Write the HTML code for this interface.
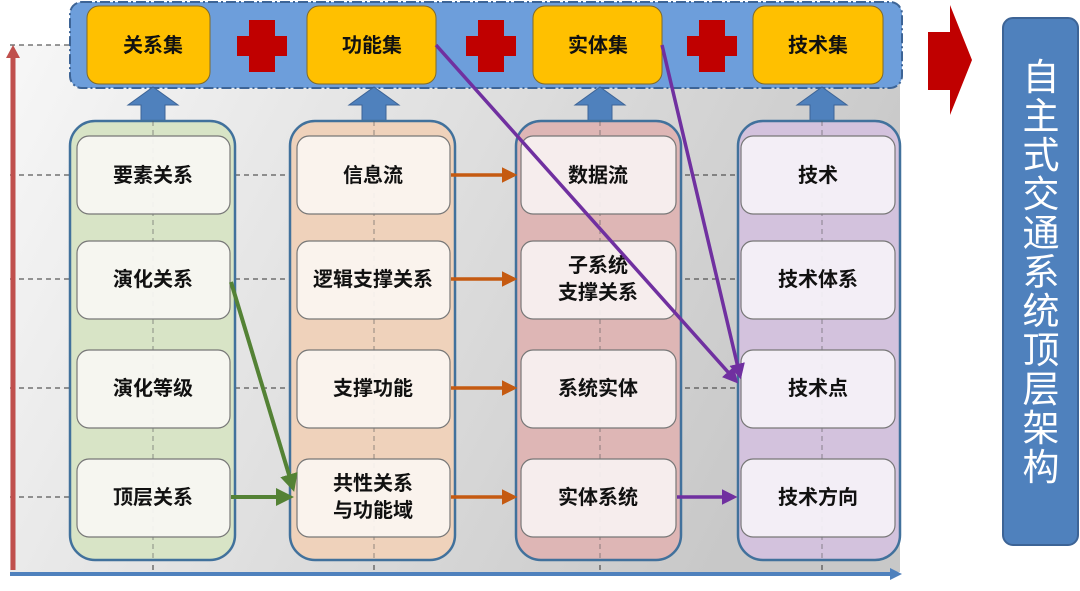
<!DOCTYPE html>
<html><head><meta charset="utf-8"><style>
html,body{margin:0;padding:0;background:#fff;width:1080px;height:591px;overflow:hidden}
text{font-family:"Liberation Sans","Noto Sans CJK SC",sans-serif;font-weight:bold}
</style></head><body>
<svg width="1080" height="591" viewBox="0 0 1080 591" xmlns="http://www.w3.org/2000/svg">
<defs>
<linearGradient id="bg" x1="0" y1="0" x2="1" y2="0.3">
<stop offset="0" stop-color="#f7f7f7"/><stop offset="1" stop-color="#c8c8c8"/></linearGradient>
<marker id="mo" markerWidth="4.5" markerHeight="4.5" refX="3.5" refY="2.25" orient="auto" markerUnits="strokeWidth"><path d="M0,0L4.5,2.25L0,4.5z" fill="#c55a11"/></marker>
<marker id="mp" markerWidth="4.5" markerHeight="4.5" refX="3.5" refY="2.25" orient="auto" markerUnits="strokeWidth"><path d="M0,0L4.5,2.25L0,4.5z" fill="#7030a0"/></marker>
<marker id="mg" markerWidth="4.5" markerHeight="4.5" refX="3.5" refY="2.25" orient="auto" markerUnits="strokeWidth"><path d="M0,0L4.5,2.25L0,4.5z" fill="#548235"/></marker>
</defs>
<rect x="10" y="45" width="890" height="527" fill="url(#bg)"/>
<g stroke="#333" stroke-dasharray="5,4" stroke-width="1">
<line x1="10" y1="45" x2="900" y2="45"/>
<line x1="10" y1="175" x2="900" y2="175"/>
<line x1="10" y1="279" x2="900" y2="279"/>
<line x1="10" y1="388" x2="900" y2="388"/>
<line x1="10" y1="497" x2="900" y2="497"/>
<line x1="153" y1="88" x2="153" y2="572"/>
<line x1="374" y1="88" x2="374" y2="572"/>
<line x1="600" y1="88" x2="600" y2="572"/>
<line x1="822" y1="88" x2="822" y2="572"/>
</g>
<line x1="13" y1="570" x2="13" y2="56" stroke="#c0504d" stroke-width="5"/>
<path d="M6,58L13,45L20,58z" fill="#c0504d"/>
<line x1="10" y1="574" x2="892" y2="574" stroke="#4f81bd" stroke-width="4"/>
<path d="M890,568L902,574L890,580z" fill="#4f81bd"/>
<rect x="70" y="2" width="832" height="86" rx="12" fill="#6d9edb" stroke="#3d6496" stroke-width="2" stroke-dasharray="10,3,2,3"/>
<g fill="#ffc000" stroke="#7f6a2a" stroke-width="1">
<rect x="87" y="6" width="123" height="78" rx="12"/>
<rect x="307" y="6" width="129" height="78" rx="12"/>
<rect x="533" y="6" width="129" height="78" rx="12"/>
<rect x="753" y="6" width="130" height="78" rx="12"/>
</g>
<g font-size="20" text-anchor="middle" fill="#111">
<text x="153" y="52">关系集</text><text x="372" y="52">功能集</text>
<text x="598" y="52">实体集</text><text x="818" y="52">技术集</text>
</g>
<g fill="#c00000">
<path d="M249,20h26v16h12v20h-12v16h-26v-16h-12v-20h12z"/>
<path d="M478,20h26v16h12v20h-12v16h-26v-16h-12v-20h12z"/>
<path d="M699,20h26v16h12v20h-12v16h-26v-16h-12v-20h12z"/>
</g>
<g fill="#4f81bd" stroke="#3d6496">
<path d="M141,121v-16h-13l25,-18l25,18h-13v16z"/>
<path d="M362,121v-16h-13l25,-18l25,18h-13v16z"/>
<path d="M588,121v-16h-13l25,-18l25,18h-13v16z"/>
<path d="M810,121v-16h-13l25,-18l25,18h-13v16z"/>
</g>
<g stroke="#41719c" stroke-width="2.5">
<rect x="70" y="121" width="165" height="439" rx="25" fill="#d8e4c6"/>
<rect x="290" y="121" width="165" height="439" rx="25" fill="#efd2bb"/>
<rect x="516" y="121" width="165" height="439" rx="25" fill="#deb6b5"/>
<rect x="738" y="121" width="162" height="439" rx="25" fill="#d3c2dd"/>
</g>
<g stroke="#555" stroke-dasharray="5,4" stroke-width="1" opacity="0.6">
<line x1="153" y1="121" x2="153" y2="560"/>
<line x1="374" y1="121" x2="374" y2="560"/>
<line x1="600" y1="121" x2="600" y2="560"/>
<line x1="822" y1="121" x2="822" y2="560"/>
</g>
<g stroke="#777" stroke-width="1.2" fill-opacity="0.93">
<g fill="#f7f8f3">
<rect x="77" y="136" width="153" height="78" rx="12"/><rect x="77" y="241" width="153" height="78" rx="12"/>
<rect x="77" y="350" width="153" height="78" rx="12"/><rect x="77" y="459" width="153" height="78" rx="12"/></g>
<g fill="#fbf5f1">
<rect x="297" y="136" width="153" height="78" rx="12"/><rect x="297" y="241" width="153" height="78" rx="12"/>
<rect x="297" y="350" width="153" height="78" rx="12"/><rect x="297" y="459" width="153" height="78" rx="12"/></g>
<g fill="#f8f1f1">
<rect x="521" y="136" width="155" height="78" rx="12"/><rect x="521" y="241" width="155" height="78" rx="12"/>
<rect x="521" y="350" width="155" height="78" rx="12"/><rect x="521" y="459" width="155" height="78" rx="12"/></g>
<g fill="#f5f1f7">
<rect x="741" y="136" width="154" height="78" rx="12"/><rect x="741" y="241" width="154" height="78" rx="12"/>
<rect x="741" y="350" width="154" height="78" rx="12"/><rect x="741" y="459" width="154" height="78" rx="12"/></g>
</g>
<g font-size="20" text-anchor="middle" fill="#111">
<text x="153" y="182">要素关系</text><text x="153" y="286">演化关系</text><text x="153" y="395">演化等级</text><text x="153" y="504">顶层关系</text>
<text x="373" y="182">信息流</text><text x="373" y="286">逻辑支撑关系</text><text x="373" y="395">支撑功能</text>
<text x="373" y="490">共性关系</text><text x="373" y="517">与功能域</text>
<text x="598" y="182">数据流</text><text x="598" y="272">子系统</text><text x="598" y="299">支撑关系</text>
<text x="598" y="395">系统实体</text><text x="598" y="504">实体系统</text>
<text x="818" y="182">技术</text><text x="818" y="286">技术体系</text><text x="818" y="395">技术点</text><text x="818" y="504">技术方向</text>
</g>
<g stroke="#c55a11" stroke-width="3.5" marker-end="url(#mo)">
<line x1="451" y1="175" x2="514" y2="175"/><line x1="451" y1="279" x2="514" y2="279"/>
<line x1="451" y1="388" x2="514" y2="388"/><line x1="451" y1="497" x2="514" y2="497"/>
</g>
<g stroke="#548235" stroke-width="4" marker-end="url(#mg)">
<line x1="231" y1="282" x2="293" y2="488"/>
<line x1="231" y1="497" x2="290" y2="497"/>
</g>
<g stroke="#7030a0" stroke-width="3.5" marker-end="url(#mp)">
<line x1="436" y1="45" x2="736" y2="381"/>
<line x1="662" y1="45" x2="740" y2="376"/>
<line x1="677" y1="497" x2="734" y2="497"/>
</g>
<path d="M928,32h22v-27l22,55l-22,55v-25h-22z" fill="#c00000"/>
<rect x="1003" y="18" width="75" height="527" rx="10" fill="#4f81bd" stroke="#3d6496" stroke-width="2"/>
<g font-size="37" text-anchor="middle" fill="#fff">
<text x="1041" y="90" style="font-weight:normal">自</text><text x="1041" y="129" style="font-weight:normal">主</text>
<text x="1041" y="168" style="font-weight:normal">式</text><text x="1041" y="207" style="font-weight:normal">交</text>
<text x="1041" y="246" style="font-weight:normal">通</text><text x="1041" y="285" style="font-weight:normal">系</text>
<text x="1041" y="324" style="font-weight:normal">统</text><text x="1041" y="363" style="font-weight:normal">顶</text>
<text x="1041" y="402" style="font-weight:normal">层</text><text x="1041" y="441" style="font-weight:normal">架</text>
<text x="1041" y="480" style="font-weight:normal">构</text>
</g>
</svg>
</body></html>
